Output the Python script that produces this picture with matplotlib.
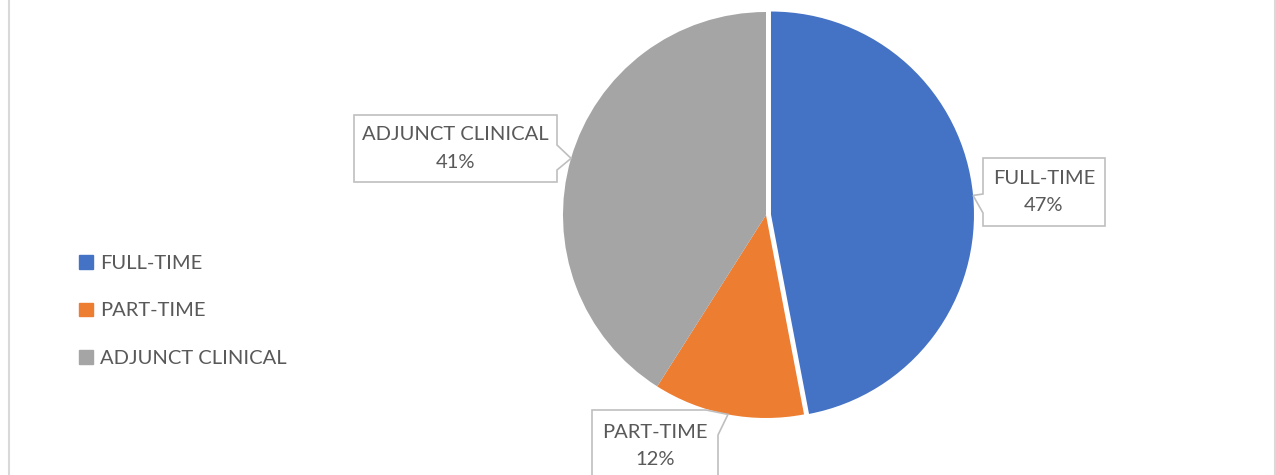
import math
import matplotlib.pyplot as plt
from matplotlib.patches import Polygon
from matplotlib.lines import Line2D

plt.rcParams['font.family'] = ['Lato', 'DejaVu Sans']

categories = ['FULL-TIME', 'PART-TIME', 'ADJUNCT CLINICAL']
shares = [47, 12, 41]
colors = ['#4472C4', '#ED7D31', '#A5A5A5']
explode = [5, 0, 0]

W, H = 1276, 475
text_color = '#595959'

fig = plt.figure(figsize=(W / 100, H / 100), dpi=100)
ax = fig.add_axes([0, 0, 1, 1])

cx, cy, r = 766, H - 215, 203
wedges, _ = ax.pie(shares, colors=colors, explode=explode, startangle=90,
                   counterclock=False, center=(cx, cy), radius=r,
                   wedgeprops=dict(linewidth=0))

# label boxes (image coords: x0, x1, top, bottom)
boxes = {
    'FULL-TIME': (983, 1105, 158, 226),
    'PART-TIME': (592, 718, 410, 500),
    'ADJUNCT CLINICAL': (354, 557, 115, 182),
}

def tip_point(w):
    th = math.radians((w.theta1 + w.theta2) / 2)
    x, y = w.center
    return x + r * math.cos(th), y + r * math.sin(th)

for w, name, val in zip(wedges, categories, shares):
    x0, x1, t, b = boxes[name]
    t, b = H - t, H - b
    tx, ty = tip_point(w)
    if name == 'FULL-TIME':
        pts = [(x0, t), (x1, t), (x1, b), (x0, b), (x0, H - 213), (tx, ty), (x0, H - 194)]
        ty_text = (t + b) / 2
    elif name == 'ADJUNCT CLINICAL':
        pts = [(x0, t), (x1, t), (x1, H - 145), (tx, ty), (x1, H - 170), (x1, b), (x0, b)]
        ty_text = (t + b) / 2
    else:
        pts = [(x0, b), (x0, t), (x1 - 12, t), (tx, ty), (x1, H - 435), (x1, b)]
        ty_text = H - 446
    ax.add_patch(Polygon(pts, closed=True, facecolor='white', edgecolor='#BFBFBF',
                         linewidth=1.2, zorder=3))
    ax.text((x0 + x1) / 2, ty_text, f'{name}\n{val}%', ha='center', va='center',
            fontsize=14.5, color=text_color, linespacing=1.75, zorder=4)

handles = [plt.Rectangle((0, 0), 1, 1, color=c) for c in colors]
leg = ax.legend(handles, categories, loc='center left', bbox_to_anchor=(61 / W, 1 - 311 / H),
                frameon=False, fontsize=14.5, handlelength=0.68, handleheight=0.68,
                handletextpad=0.35, labelspacing=1.5, labelcolor=text_color)

# chart frame sides
ax.add_line(Line2D([9, 9], [0, H], color='#D9D9D9', linewidth=1.5))
ax.add_line(Line2D([1275, 1275], [0, H], color='#D9D9D9', linewidth=1.5))

ax.set_xlim(0, W)
ax.set_ylim(0, H)
ax.set_aspect('equal')
ax.axis('off')

fig.savefig('out.png', dpi=100, facecolor='white')
